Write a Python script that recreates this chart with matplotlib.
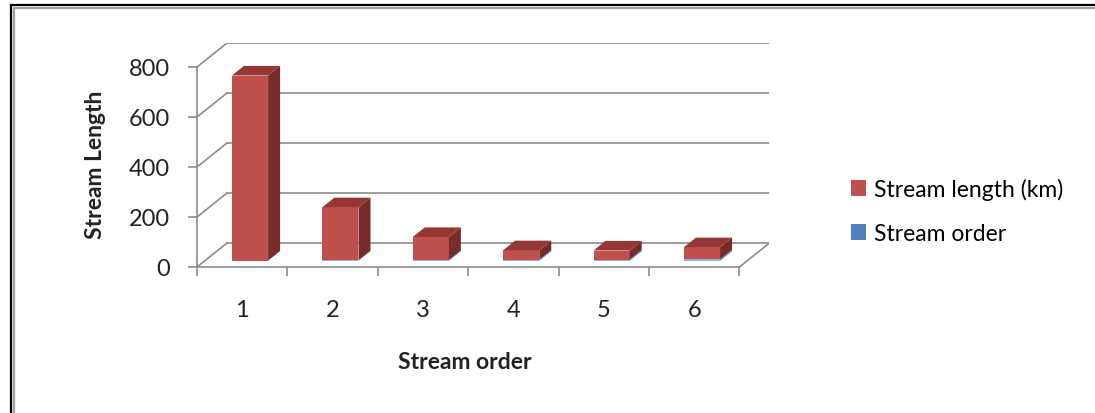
import matplotlib.pyplot as plt
from matplotlib.patches import Polygon, Patch
from matplotlib.lines import Line2D

plt.rcParams["font.family"] = ["Lato", "DejaVu Sans"]

categories = [1, 2, 3, 4, 5, 6]
stream_order = [1, 2, 3, 4, 5, 6]
stream_length = [740, 212, 92, 38, 36, 48]
y_ticks = [0, 200, 400, 600, 800]

# oblique "3d" look: depth vector of the back wall in data units
dx, dy = 0.332, 96
f0, fd = 0.26, 0.40   # bar front position / depth as fraction of the depth vector
bw = 0.40
grid_c = "#8c8c8c"
txt_c = "#222222"

fig = plt.figure(figsize=(10.95, 4.14), dpi=100)
ax = fig.add_axes([197 / 1095, 136 / 414, 572.4 / 1095, 234 / 414])
ax.set_xlim(0.5, 6.5 + dx)
ax.set_ylim(-40, 896)

# walls
for v in y_ticks:
    ax.plot([0.5 + dx, 6.5 + dx], [v + dy, v + dy], color=grid_c, lw=1.2, zorder=1)
    ax.plot([0.5, 0.5 + dx], [v, v + dy], color=grid_c, lw=1.2, zorder=1)
ax.plot([6.5, 6.5 + dx], [0, dy], color=grid_c, lw=1.2, zorder=1)


def box(x, bottom, h, front, side, top=None):
    x0 = x - bw / 2 + f0 * dx
    b0 = bottom + f0 * dy
    ax.bar(x0 + bw / 2, h, width=bw, bottom=b0, color=front, zorder=3, linewidth=0)
    ddx, ddy = fd * dx, fd * dy
    x1 = x0 + bw
    ax.add_patch(Polygon([(x1, b0), (x1 + ddx, b0 + ddy), (x1 + ddx, b0 + h + ddy), (x1, b0 + h)],
                         closed=True, facecolor=side, edgecolor="none", zorder=3))
    if top:
        ax.add_patch(Polygon([(x0, b0 + h), (x1, b0 + h), (x1 + ddx, b0 + h + ddy), (x0 + ddx, b0 + h + ddy)],
                             closed=True, facecolor=top, edgecolor="none", zorder=3))


for c, o, l in zip(categories, stream_order, stream_length):
    box(c, 0, o, "#8DB4E2", "#4F81BD")
    box(c, o, l, "#C0504D", "#772C2A", "#953735")

for s in ["top", "right"]:
    ax.spines[s].set_visible(False)
ax.spines["left"].set_bounds(0, 800)
ax.spines["left"].set_color(grid_c)
ax.spines["left"].set_linewidth(1.2)
ax.spines["bottom"].set_position(("data", 0))
ax.spines["bottom"].set_bounds(0.5, 6.5)
ax.spines["bottom"].set_color(grid_c)
ax.spines["bottom"].set_linewidth(1.2)

ax.set_yticks(y_ticks)
ax.tick_params(axis="y", length=6.5, width=1.2, color=grid_c, pad=13, labelsize=17, labelcolor=txt_c)
ax.set_xticks([c - 0.5 for c in categories] + [6.5])
ax.set_xticklabels([])
ax.set_xticks(categories, minor=True)
ax.set_xticklabels([str(c) for c in categories], minor=True)
ax.tick_params(axis="x", which="major", length=6.5, width=1.2, color=grid_c, direction="out")
ax.tick_params(axis="x", which="minor", length=0, pad=23, labelsize=17, labelcolor=txt_c)

ax.text(-0.1765, 0.483, "Stream Length", transform=ax.transAxes, rotation=90,
        ha="center", va="center", fontsize=16.5, fontweight="bold", color=txt_c)
ax.text(0.468, -0.363, "Stream order", transform=ax.transAxes,
        ha="center", va="center", fontsize=16.5, fontweight="bold", color=txt_c)

handles = [Patch(facecolor="#C0504D"), Patch(facecolor="#4F81BD")]
fig.legend(handles, ["Stream length (km)", "Stream order"], loc="center left",
           bbox_to_anchor=(830 / 1095, 1 - 212 / 414), frameon=False, fontsize=16.5,
           handlelength=0.65, handleheight=0.65, handletextpad=0.35, labelspacing=1.0)

# outer frame (left and top only are visible in the picture)
fig.add_artist(Line2D([11 / 1095, 11 / 1095], [0, 1 - 5.5 / 414], color="black", lw=1.6))
fig.add_artist(Line2D([11 / 1095, 1], [1 - 5.5 / 414, 1 - 5.5 / 414], color="black", lw=1.6))
fig.add_artist(Line2D([14 / 1095, 14 / 1095], [0, 1 - 8.5 / 414], color="#a0a0a0", lw=1.6))
fig.add_artist(Line2D([14 / 1095, 1], [1 - 8.5 / 414, 1 - 8.5 / 414], color="#a0a0a0", lw=1.6))

fig.savefig("out.png", dpi=100)
